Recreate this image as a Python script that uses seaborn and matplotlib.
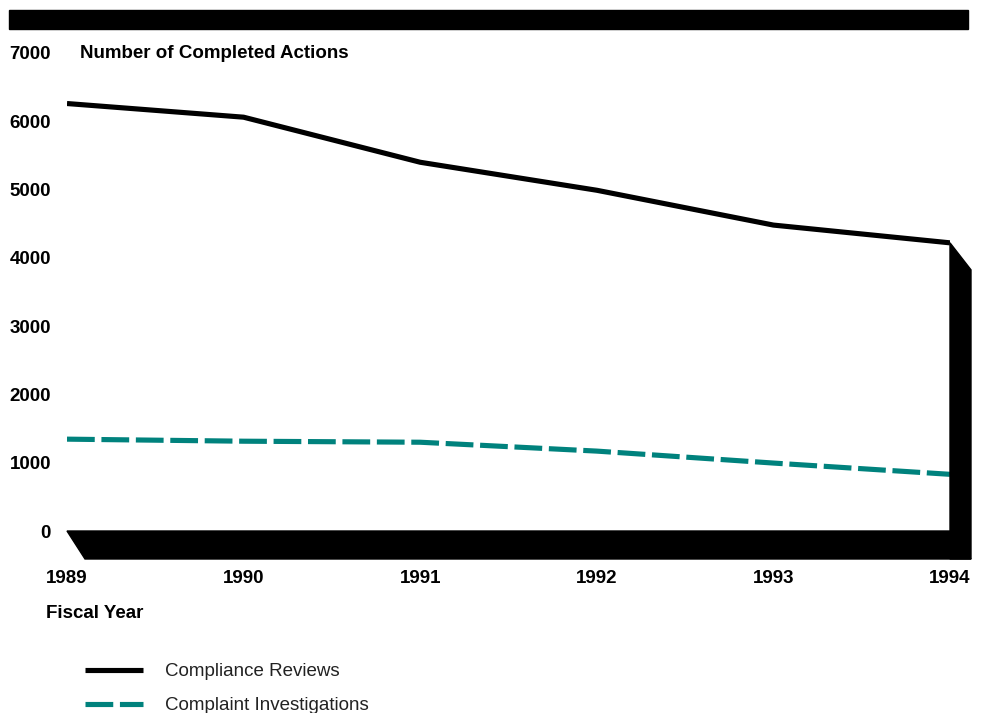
import pandas as pd
import matplotlib.pyplot as plt
import seaborn as sns
from matplotlib.patches import Polygon, Rectangle

# --- Données ---
years = [1989, 1990, 1991, 1992, 1993, 1994]
compliance_reviews = [6260, 6060, 5400, 4990, 4480, 4220]
complaint_investigations = [1345, 1315, 1300, 1170, 995, 830]
y_ticks = [0, 1000, 2000, 3000, 4000, 5000, 6000, 7000]

series_names = ["Compliance Reviews", "Complaint Investigations"]
df = pd.DataFrame({
    "Fiscal Year": years * 2,
    "Actions": compliance_reviews + complaint_investigations,
    "Series": [series_names[0]] * len(years) + [series_names[1]] * len(years),
})

sns.set_theme(style="white")
plt.rcParams["font.family"] = ["Liberation Sans", "DejaVu Sans"]
plt.rcParams["text.color"] = "black"
plt.rcParams["xtick.color"] = "black"
plt.rcParams["ytick.color"] = "black"

W, H = 990, 713
fig = plt.figure(figsize=(W / 100, H / 100), dpi=100)

# axes placé en pixels : 1989 -> x=67, 1994 -> x=950, 0 -> y=531, 7000 -> y=53
x0, x1, y0, y1 = 67, 950, 531, 53
ax = fig.add_axes([x0 / W, (H - y0) / H, (x1 - x0) / W, (y0 - y1) / H])

teal = "#00827D"
sns.lineplot(data=df, x="Fiscal Year", y="Actions", hue="Series", style="Series",
             palette={series_names[0]: "black", series_names[1]: teal},
             dashes={series_names[0]: "", series_names[1]: (5.4, 1.3)},
             linewidth=3.7, ax=ax, solid_capstyle="butt", dash_capstyle="butt")

ax.set_xlim(1989, 1994)
ax.set_ylim(0, 7000)

# "sol" et "mur" en pseudo-3D
px_x = (1994 - 1989) / (x1 - x0)
px_y = 7000 / (y0 - y1)
dx, dy = 21 * px_x, 28 * px_y
floor = Polygon([(1989, 0), (1994, 0), (1994 + dx, -dy), (1989 + 18 * px_x, -dy)],
                closed=True, color="black", clip_on=False, zorder=3)
wall_top = compliance_reviews[-1]
wall = Polygon([(1994, wall_top), (1994 + dx, wall_top - 27 * px_y),
                (1994 + dx, -dy), (1994, -dy)],
               closed=True, color="black", clip_on=False, zorder=3)
ax.add_patch(floor)
ax.add_patch(wall)

for s in ax.spines.values():
    s.set_visible(False)
ax.set_yticks(y_ticks)
ax.set_yticklabels([str(v) for v in y_ticks], fontsize=13.5, fontweight="bold")
ax.set_xticks(years)
ax.set_xticklabels([str(y) for y in years], fontsize=13.5, fontweight="bold")
ax.tick_params(axis="y", length=0, pad=11.5)
ax.tick_params(axis="x", length=0, pad=28)
ax.set_xlabel("")
ax.set_ylabel("")

# bandeau noir en haut
fig.patches.append(Rectangle((9 / W, (H - 29) / H), (968 - 9) / W, 19 / H,
                             transform=fig.transFigure, color="black", zorder=0))

fig.text(80 / W, 1 - 53 / H, "Number of Completed Actions", fontsize=13.5,
         fontweight="bold", va="center", ha="left")
fig.text(46 / W, 1 - 614 / H, "Fiscal Year", fontsize=13.5,
         fontweight="bold", va="center", ha="left")

handles, labels = ax.get_legend_handles_labels()
ax.get_legend().remove()
leg = fig.legend(handles, labels, loc="upper left",
                 bbox_to_anchor=(85 / W, 1 - 663 / H), bbox_transform=fig.transFigure,
                 frameon=False, fontsize=13.5, handlelength=3.1, handletextpad=1.17,
                 labelspacing=0.9, borderpad=0, borderaxespad=0)
for t in leg.get_texts():
    t.set_color("#222222")

fig.savefig("out.png", dpi=100)
